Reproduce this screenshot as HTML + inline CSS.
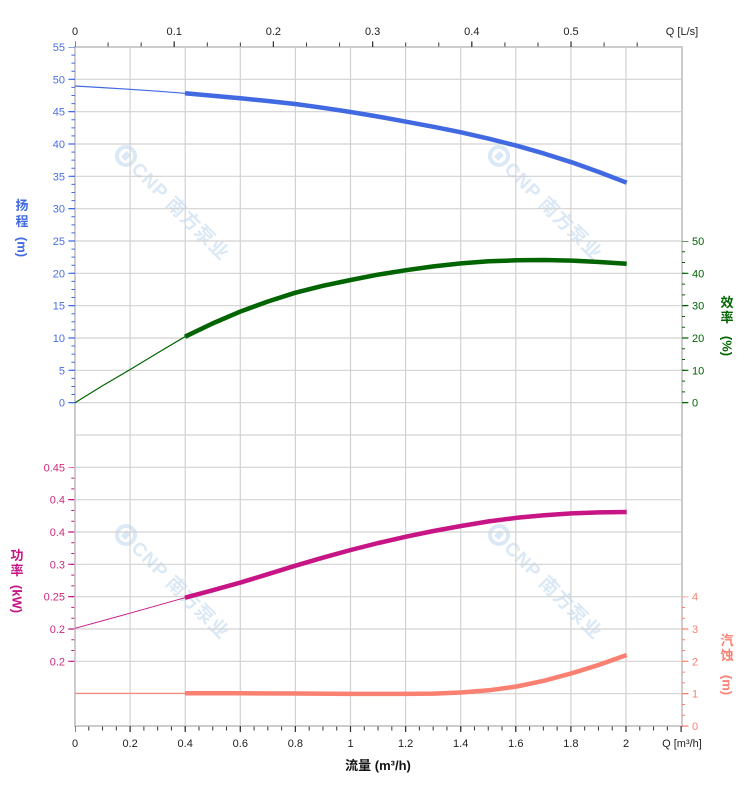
<!DOCTYPE html>
<html><head><meta charset="utf-8"><style>
html,body{margin:0;padding:0;background:#fff;}
svg{display:block;}
text{font-family:"Liberation Sans","Noto Sans CJK SC",sans-serif;}
</style></head><body>
<svg width="752" height="797" viewBox="0 0 752 797" xmlns="http://www.w3.org/2000/svg">
<rect width="752" height="797" fill="#fff"/>
<!-- watermarks -->
<g fill="#dbe8f5" font-weight="bold" font-size="19">
<g transform="translate(126,156) rotate(45)"><circle cx="0" cy="0" r="9" fill="none" stroke="#dbe8f5" stroke-width="4"/><rect x="-3" y="-4" width="6" height="8" fill="#dbe8f5"/><text x="13" y="7" letter-spacing="1">CNP 南方泵业</text></g>
<g transform="translate(499,156) rotate(45)"><circle cx="0" cy="0" r="9" fill="none" stroke="#dbe8f5" stroke-width="4"/><rect x="-3" y="-4" width="6" height="8" fill="#dbe8f5"/><text x="13" y="7" letter-spacing="1">CNP 南方泵业</text></g>
<g transform="translate(126,535) rotate(45)"><circle cx="0" cy="0" r="9" fill="none" stroke="#dbe8f5" stroke-width="4"/><rect x="-3" y="-4" width="6" height="8" fill="#dbe8f5"/><text x="13" y="7" letter-spacing="1">CNP 南方泵业</text></g>
<g transform="translate(499,535) rotate(45)"><circle cx="0" cy="0" r="9" fill="none" stroke="#dbe8f5" stroke-width="4"/><rect x="-3" y="-4" width="6" height="8" fill="#dbe8f5"/><text x="13" y="7" letter-spacing="1">CNP 南方泵业</text></g>
</g>
<!-- grid -->
<g stroke="#d2d2d2" stroke-width="1.2">
<line x1="75" y1="79.33" x2="682" y2="79.33"/><line x1="75" y1="111.67" x2="682" y2="111.67"/><line x1="75" y1="144" x2="682" y2="144"/><line x1="75" y1="176.33" x2="682" y2="176.33"/><line x1="75" y1="208.67" x2="682" y2="208.67"/><line x1="75" y1="241" x2="682" y2="241"/><line x1="75" y1="273.33" x2="682" y2="273.33"/><line x1="75" y1="305.67" x2="682" y2="305.67"/><line x1="75" y1="338" x2="682" y2="338"/><line x1="75" y1="370.33" x2="682" y2="370.33"/><line x1="75" y1="402.67" x2="682" y2="402.67"/><line x1="75" y1="435" x2="682" y2="435"/><line x1="75" y1="467.33" x2="682" y2="467.33"/><line x1="75" y1="499.67" x2="682" y2="499.67"/><line x1="75" y1="532" x2="682" y2="532"/><line x1="75" y1="564.33" x2="682" y2="564.33"/><line x1="75" y1="596.67" x2="682" y2="596.67"/><line x1="75" y1="629" x2="682" y2="629"/><line x1="75" y1="661.33" x2="682" y2="661.33"/><line x1="75" y1="693.67" x2="682" y2="693.67"/>
<line x1="130.1" y1="47" x2="130.1" y2="726"/><line x1="185.2" y1="47" x2="185.2" y2="726"/><line x1="240.3" y1="47" x2="240.3" y2="726"/><line x1="295.4" y1="47" x2="295.4" y2="726"/><line x1="350.5" y1="47" x2="350.5" y2="726"/><line x1="405.6" y1="47" x2="405.6" y2="726"/><line x1="460.7" y1="47" x2="460.7" y2="726"/><line x1="515.8" y1="47" x2="515.8" y2="726"/><line x1="570.9" y1="47" x2="570.9" y2="726"/><line x1="626" y1="47" x2="626" y2="726"/>
</g>
<g stroke="#cccccc" stroke-width="2" fill="none">
<rect x="75" y="47" width="607" height="679"/>
</g>
<!-- top ticks -->
<g stroke="#333">
<line x1="75" y1="44.5" x2="640" y2="44.5" stroke-width="4" stroke-dasharray="1 32.07" stroke-dashoffset="0.5"/>
<line x1="75" y1="44.2" x2="640" y2="44.2" stroke-width="5.6" stroke-dasharray="1.2 98.0" stroke-dashoffset="0.6"/>
</g>
<!-- bottom ticks -->
<g stroke="#333">
<line x1="75" y1="728.5" x2="684" y2="728.5" stroke-width="4" stroke-dasharray="1 12.775" stroke-dashoffset="0.5"/>
<line x1="75" y1="729" x2="684" y2="729" stroke-width="6" stroke-dasharray="1.2 53.9" stroke-dashoffset="0.6"/>
</g>
<!-- head ticks -->
<g stroke="#4169e1">
<line x1="73.2" y1="47" x2="73.2" y2="404" stroke-width="3.6" stroke-dasharray="1 7.0825" stroke-dashoffset="0.5"/>
<line x1="71.7" y1="47" x2="71.7" y2="404" stroke-width="6.6" stroke-dasharray="1.2 31.13" stroke-dashoffset="0.6"/>
</g>
<!-- power ticks -->
<g stroke="#c71585">
<line x1="72.8" y1="467.33" x2="72.8" y2="663" stroke-width="3" stroke-dasharray="1 9.777" stroke-dashoffset="0.5"/>
<line x1="71.2" y1="467.33" x2="71.2" y2="663" stroke-width="6" stroke-dasharray="1.2 31.13" stroke-dashoffset="0.6"/>
</g>
<!-- efficiency ticks -->
<g stroke="#006400">
<line x1="683.5" y1="241" x2="683.5" y2="404" stroke-width="3" stroke-dasharray="1 9.777" stroke-dashoffset="0.5"/>
<line x1="685.2" y1="241" x2="685.2" y2="404" stroke-width="6.4" stroke-dasharray="1.2 31.13" stroke-dashoffset="0.6"/>
</g>
<!-- npsh ticks -->
<g stroke="#fa8072">
<line x1="683.5" y1="596.67" x2="683.5" y2="727" stroke-width="3" stroke-dasharray="1 9.777" stroke-dashoffset="0.5"/>
<line x1="685.2" y1="596.67" x2="685.2" y2="727" stroke-width="6.4" stroke-dasharray="1.2 31.13" stroke-dashoffset="0.6"/>
</g>
<!-- curves -->
<g fill="none" stroke-linejoin="round">
<polyline stroke="#4169e1" stroke-width="1.2" points="75,86 102.5,87.6 130,89.3 157.5,91.2 185,93.3"/>
<polyline stroke="#4169e1" stroke-width="4.5" points="185,93.3 212.6,95.7 240.3,98.3 267.8,101 295.3,104 323,107.8 350.7,112 378.3,116.6 406,121.7 433.5,126.8 461,132.3 488.8,138.7 516.7,145.7 544.2,153.6 571.7,162.3 599.2,172.1 626.7,182.7"/>
<polyline stroke="#006400" stroke-width="1.2" points="75,402.7 102.5,385.8 130,369.6 157.5,353 185,336.7"/>
<polyline stroke="#006400" stroke-width="4.5" points="185,336.7 212.5,323.5 240,311.7 267.5,301.6 295,292.8 322.8,285.8 350.7,280 378.3,274.6 406,270.2 433.5,266.4 461,263.4 488.8,261.3 516.7,260.3 544.2,260 571.7,260.6 599.2,262 626.7,263.7"/>
<polyline stroke="#c71585" stroke-width="1" points="75,628.3 130,613.2 185,597.7"/>
<polyline stroke="#c71585" stroke-width="4.5" points="185,597.7 212.5,590.3 240,582.7 267.5,574.3 295,565.8 322.8,557.7 350.7,550 378.3,543 406,536.7 433.5,531 461,526 488.8,521.4 516.7,517.8 544.2,515.2 571.7,513.4 599.2,512.4 626.7,512"/>
<polyline stroke="#fa8072" stroke-width="1.2" points="75,693.3 185,693.3"/>
<polyline stroke="#fa8072" stroke-width="4.5" points="185,693.3 240,693.3 295,693.5 350.7,693.9 406,693.9 433.5,693.6 461,692.5 488.8,690.3 516.7,686.5 544.2,680.7 571.7,673.3 599.2,664.8 626.7,655"/>
</g>
<!-- top labels -->
<g font-size="11" fill="#222" text-anchor="middle">
<text x="75" y="35">0</text><text x="174.2" y="35">0.1</text><text x="273.4" y="35">0.2</text><text x="372.6" y="35">0.3</text><text x="471.8" y="35">0.4</text><text x="571" y="35">0.5</text><text x="682" y="35">Q [L/s]</text>
</g>
<!-- bottom labels -->
<g font-size="11" fill="#222" text-anchor="middle">
<text x="75" y="747">0</text><text x="130.1" y="747">0.2</text><text x="185.2" y="747">0.4</text><text x="240.3" y="747">0.6</text><text x="295.4" y="747">0.8</text><text x="350.5" y="747">1</text><text x="405.6" y="747">1.2</text><text x="460.7" y="747">1.4</text><text x="515.8" y="747">1.6</text><text x="570.9" y="747">1.8</text><text x="626" y="747">2</text><text x="682" y="747">Q [m³/h]</text>
</g>
<text x="378" y="770" font-size="13" font-weight="bold" fill="#111" text-anchor="middle">流量 (m³/h)</text>
<!-- head labels -->
<g font-size="11" fill="#4a6fe3" text-anchor="end">
<text x="65" y="51">55</text><text x="65" y="83.3">50</text><text x="65" y="115.7">45</text><text x="65" y="148">40</text><text x="65" y="180.3">35</text><text x="65" y="212.7">30</text><text x="65" y="245">25</text><text x="65" y="277.3">20</text><text x="65" y="309.7">15</text><text x="65" y="342">10</text><text x="65" y="374.3">5</text><text x="65" y="406.7">0</text>
</g>
<!-- power labels -->
<g font-size="11" fill="#cf2a7e" text-anchor="end">
<text x="65" y="471.3">0.45</text><text x="65" y="503.7">0.4</text><text x="65" y="536">0.4</text><text x="65" y="568.3">0.3</text><text x="65" y="600.7">0.25</text><text x="65" y="633">0.2</text><text x="65" y="665.3">0.2</text>
</g>
<!-- efficiency labels -->
<g font-size="11" fill="#006400">
<text x="692" y="245">50</text><text x="692" y="277.3">40</text><text x="692" y="309.7">30</text><text x="692" y="342">20</text><text x="692" y="374.3">10</text><text x="692" y="406.7">0</text>
</g>
<!-- npsh labels -->
<g font-size="11" fill="#fa8072">
<text x="692" y="600.7">4</text><text x="692" y="633">3</text><text x="692" y="665.3">2</text><text x="692" y="697.7">1</text><text x="692" y="730">0</text>
</g>
<!-- axis titles -->
<g font-size="13" font-weight="bold" text-anchor="middle">
<g fill="#4169e1">
<text x="22" y="210">扬</text><text x="22" y="226">程</text>
<text transform="translate(22,247) rotate(90)" y="4.5">(m)</text>
</g>
<g fill="#c71585">
<text x="17" y="560">功</text><text x="17" y="575">率</text>
<text transform="translate(17,599) rotate(90)" y="4.5">(kW)</text>
</g>
<g fill="#006400">
<text x="727" y="307">效</text><text x="727" y="322">率</text>
<text transform="translate(727,346) rotate(90)" y="4.5">(%)</text>
</g>
<g fill="#fa8072">
<text x="727" y="645">汽</text><text x="727" y="660">蚀</text>
<text transform="translate(727,685) rotate(90)" y="4.5">(m)</text>
</g>
</g>
</svg>
</body></html>
